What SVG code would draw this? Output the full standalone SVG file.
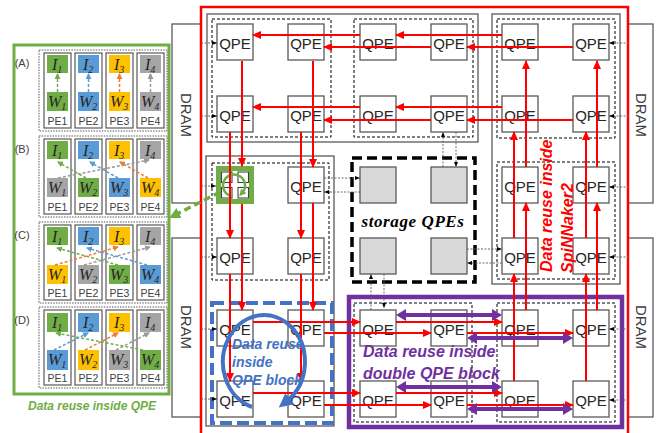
<svg xmlns="http://www.w3.org/2000/svg" width="656" height="433" viewBox="0 0 656 433">
<style>
.blk{fill:#fff;stroke:#595959;stroke-width:1.3}
.dsh{fill:none;stroke:#000;stroke-width:1;stroke-dasharray:3,2}
.q{fill:#fff;stroke:#595959;stroke-width:1.3}
.qt{font-family:"Liberation Sans",Arial,sans-serif;font-size:15px;fill:#262626;text-anchor:middle}
.st{fill:#D9D9D9;stroke:#595959;stroke-width:1.3}
.dram{fill:#fff;stroke:#595959;stroke-width:1.3}
.dt{font-family:"Liberation Sans",Arial,sans-serif;font-size:15px;fill:#404040;text-anchor:middle;dominant-baseline:central}
.r{fill:none;stroke:#FF0000;stroke-width:2;marker-end:url(#ar)}
.p{fill:none;stroke:#7030A0;stroke-width:4;marker-start:url(#ap);marker-end:url(#ap)}
.k{fill:none;stroke:#595959;stroke-width:0.9;stroke-dasharray:2,1.5;marker-end:url(#ak)}
.pnl{fill:none;stroke:#595959;stroke-width:1;stroke-dasharray:1.5,1.2}
.pe{fill:#fff;stroke:#595959;stroke-width:1.2}
.pl{font-family:"Liberation Sans",Arial,sans-serif;font-size:10.5px;fill:#404040;text-anchor:middle}
.lab{font-family:"Liberation Sans",Arial,sans-serif;font-size:11px;fill:#404040;text-anchor:middle}
.iw{font-family:"Liberation Serif","Times New Roman",serif;font-style:italic;font-size:16px;fill:#262626}
.sb{font-size:10px}
.G{fill:#70AD47}.B{fill:#5B9BD5}.Y{fill:#FFC000}.A{fill:#A5A5A5}
.ag{fill:none;stroke:#70AD47;stroke-width:1.5;stroke-dasharray:3,2;marker-end:url(#mg)}
.ab{fill:none;stroke:#5B9BD5;stroke-width:1.5;stroke-dasharray:3,2;marker-end:url(#mb)}
.ao{fill:none;stroke:#ED7D31;stroke-width:1.5;stroke-dasharray:3,2;marker-end:url(#mo)}
.aa{fill:none;stroke:#999;stroke-width:1.5;stroke-dasharray:3,2;marker-end:url(#ma)}
.bi{font-family:"Liberation Sans",Arial,sans-serif;font-weight:bold;font-style:italic}
</style>
<defs>
<marker id="ar" viewBox="0 0 9 8" markerWidth="9" markerHeight="8" refX="8" refY="4" orient="auto" markerUnits="userSpaceOnUse"><path d="M0,0 L9,4 L0,8 z" fill="#FF0000"/></marker>
<marker id="ap" viewBox="0 0 10 12" markerWidth="10" markerHeight="12" refX="1" refY="6" orient="auto-start-reverse" markerUnits="userSpaceOnUse"><path d="M0,0 L10,6 L0,12 z" fill="#7030A0"/></marker>
<marker id="ak" viewBox="0 0 10 10" markerWidth="5" markerHeight="5" refX="10" refY="5" orient="auto" markerUnits="userSpaceOnUse"><path d="M0,1 L10,5 L0,9 z" fill="#000"/></marker>
<marker id="mg" viewBox="0 0 6 6" markerWidth="6" markerHeight="6" refX="5" refY="3" orient="auto" markerUnits="userSpaceOnUse"><path d="M0,0 L6,3 L0,6 z" fill="#70AD47"/></marker>
<marker id="mb" viewBox="0 0 6 6" markerWidth="6" markerHeight="6" refX="5" refY="3" orient="auto" markerUnits="userSpaceOnUse"><path d="M0,0 L6,3 L0,6 z" fill="#5B9BD5"/></marker>
<marker id="mo" viewBox="0 0 6 6" markerWidth="6" markerHeight="6" refX="5" refY="3" orient="auto" markerUnits="userSpaceOnUse"><path d="M0,0 L6,3 L0,6 z" fill="#ED7D31"/></marker>
<marker id="ma" viewBox="0 0 6 6" markerWidth="6" markerHeight="6" refX="5" refY="3" orient="auto" markerUnits="userSpaceOnUse"><path d="M0,0 L6,3 L0,6 z" fill="#999"/></marker>
<marker id="mgb" viewBox="0 0 10 10" markerWidth="11" markerHeight="11" refX="3" refY="5" orient="auto" markerUnits="userSpaceOnUse"><path d="M0,0 L10,5 L0,10 z" fill="#70AD47"/></marker>
<marker id="mgs" viewBox="0 0 10 10" markerWidth="7" markerHeight="7" refX="3" refY="5" orient="auto" markerUnits="userSpaceOnUse"><path d="M0,0 L10,5 L0,10 z" fill="#70AD47"/></marker>
<marker id="mbl" viewBox="0 0 10 10" markerWidth="14" markerHeight="14" refX="2" refY="5" orient="auto" markerUnits="userSpaceOnUse"><path d="M0,0 L10,5 L0,10 z" fill="#4472C4"/></marker>
</defs>
<rect width="656" height="433" fill="#fff"/>

<!-- DRAM -->
<g id="dram-l1"><rect class="dram" x="172" y="24" width="29" height="179"/><text class="dt" transform="translate(186,115) rotate(90)">DRAM</text></g>
<g id="dram-l2"><rect class="dram" x="172" y="238" width="29" height="179"/><text class="dt" transform="translate(186,327) rotate(90)">DRAM</text></g>
<g id="dram-r1"><rect class="dram" x="628" y="24" width="25" height="179"/><text class="dt" transform="translate(641,115) rotate(90)">DRAM</text></g>
<g id="dram-r2"><rect class="dram" x="628" y="238" width="25" height="179"/><text class="dt" transform="translate(641,327) rotate(90)">DRAM</text></g>

<!-- blocks -->
<g id="blocks">
<rect class="blk" x="207" y="14" width="271" height="128"/>
<rect class="blk" x="492" y="14" width="128" height="270"/>
<rect class="blk" x="206" y="156" width="128" height="270"/>
<rect class="dsh" x="212" y="19" width="119" height="118"/>
<rect class="dsh" x="354" y="19" width="119" height="118"/>
<rect class="dsh" x="497" y="19" width="118" height="119"/>
<rect class="dsh" x="497" y="162" width="118" height="117"/>
<rect class="dsh" x="212" y="163" width="117" height="117"/>
<rect fill="#fff" stroke="#7030A0" stroke-width="4.5" x="349" y="297" width="273" height="130"/>
<rect class="dsh" x="354" y="303" width="118" height="119"/>
<rect class="dsh" x="497" y="303" width="118" height="119"/>
<rect fill="none" stroke="#000" stroke-width="3.5" stroke-dasharray="10,5" x="352" y="158" width="123" height="124"/>
<rect fill="none" stroke="#4472C4" stroke-width="4" stroke-dasharray="12,5" x="212" y="303" width="120" height="120"/>
</g>

<!-- QPE nodes -->
<g id="qpe-1-1"><rect class="q" x="217" y="24" width="36" height="36"/><text class="qt" x="235" y="48.5">QPE</text></g>
<g id="qpe-1-2"><rect class="q" x="288" y="24" width="36" height="36"/><text class="qt" x="306" y="48.5">QPE</text></g>
<g id="qpe-1-3"><rect class="q" x="360" y="24" width="36" height="36"/><text class="qt" x="378" y="48.5">QPE</text></g>
<g id="qpe-1-4"><rect class="q" x="431" y="24" width="36" height="36"/><text class="qt" x="449" y="48.5">QPE</text></g>
<g id="qpe-1-5"><rect class="q" x="502" y="24" width="36" height="36"/><text class="qt" x="520" y="48.5">QPE</text></g>
<g id="qpe-1-6"><rect class="q" x="573" y="24" width="36" height="36"/><text class="qt" x="591" y="48.5">QPE</text></g>
<g id="qpe-2-1"><rect class="q" x="217" y="96" width="36" height="36"/><text class="qt" x="235" y="120.5">QPE</text></g>
<g id="qpe-2-2"><rect class="q" x="288" y="96" width="36" height="36"/><text class="qt" x="306" y="120.5">QPE</text></g>
<g id="qpe-2-3"><rect class="q" x="360" y="96" width="36" height="36"/><text class="qt" x="378" y="120.5">QPE</text></g>
<g id="qpe-2-4"><rect class="q" x="431" y="96" width="36" height="36"/><text class="qt" x="449" y="120.5">QPE</text></g>
<g id="qpe-2-5"><rect class="q" x="502" y="96" width="36" height="36"/><text class="qt" x="520" y="120.5">QPE</text></g>
<g id="qpe-2-6"><rect class="q" x="573" y="96" width="36" height="36"/><text class="qt" x="591" y="120.5">QPE</text></g>
<g id="qpe-3-1-green">
<rect fill="#fff" stroke="#70AD47" stroke-width="5" x="218.5" y="168.5" width="33" height="33"/>
<rect fill="#fff" stroke="#404040" stroke-width="1.1" x="221.5" y="172" width="10.5" height="10.5"/>
<rect fill="#fff" stroke="#404040" stroke-width="1.1" x="238" y="172" width="10.5" height="10.5"/>
<rect fill="#fff" stroke="#404040" stroke-width="1.1" x="221.5" y="187.5" width="10.5" height="10.5"/>
<rect fill="#fff" stroke="#404040" stroke-width="1.1" x="238" y="187.5" width="10.5" height="10.5"/>
<path d="M229.5,195.5 A11,11 0 1 1 242.4,192.6" fill="none" stroke="#70AD47" stroke-width="2.5" marker-end="url(#mgs)"/>
</g>
<g id="qpe-3-2"><rect class="q" x="288" y="167" width="36" height="36"/><text class="qt" x="306" y="191.5">QPE</text></g>
<g id="qpe-3-5"><rect class="q" x="502" y="167" width="36" height="36"/><text class="qt" x="520" y="191.5">QPE</text></g>
<g id="qpe-3-6"><rect class="q" x="573" y="167" width="36" height="36"/><text class="qt" x="591" y="191.5">QPE</text></g>
<g id="qpe-4-1"><rect class="q" x="217" y="238" width="36" height="36"/><text class="qt" x="235" y="262.5">QPE</text></g>
<g id="qpe-4-2"><rect class="q" x="288" y="238" width="36" height="36"/><text class="qt" x="306" y="262.5">QPE</text></g>
<g id="qpe-4-5"><rect class="q" x="502" y="238" width="36" height="36"/><text class="qt" x="520" y="262.5">QPE</text></g>
<g id="qpe-4-6"><rect class="q" x="573" y="238" width="36" height="36"/><text class="qt" x="591" y="262.5">QPE</text></g>
<g id="qpe-5-1"><rect class="q" x="217" y="310" width="36" height="36"/><text class="qt" x="235" y="334.5">QPE</text></g>
<g id="qpe-5-2"><rect class="q" x="288" y="310" width="36" height="36"/><text class="qt" x="306" y="334.5">QPE</text></g>
<g id="qpe-5-3"><rect class="q" x="360" y="310" width="36" height="36"/><text class="qt" x="378" y="334.5">QPE</text></g>
<g id="qpe-5-4"><rect class="q" x="431" y="310" width="36" height="36"/><text class="qt" x="449" y="334.5">QPE</text></g>
<g id="qpe-5-5"><rect class="q" x="502" y="310" width="36" height="36"/><text class="qt" x="520" y="334.5">QPE</text></g>
<g id="qpe-5-6"><rect class="q" x="573" y="310" width="36" height="36"/><text class="qt" x="591" y="334.5">QPE</text></g>
<g id="qpe-6-1"><rect class="q" x="217" y="381" width="36" height="36"/><text class="qt" x="235" y="405.5">QPE</text></g>
<g id="qpe-6-2"><rect class="q" x="288" y="381" width="36" height="36"/><text class="qt" x="306" y="405.5">QPE</text></g>
<g id="qpe-6-3"><rect class="q" x="360" y="381" width="36" height="36"/><text class="qt" x="378" y="405.5">QPE</text></g>
<g id="qpe-6-4"><rect class="q" x="431" y="381" width="36" height="36"/><text class="qt" x="449" y="405.5">QPE</text></g>
<g id="qpe-6-5"><rect class="q" x="502" y="381" width="36" height="36"/><text class="qt" x="520" y="405.5">QPE</text></g>
<g id="qpe-6-6"><rect class="q" x="573" y="381" width="36" height="36"/><text class="qt" x="591" y="405.5">QPE</text></g>

<!-- storage QPEs -->
<g id="storage">
<rect class="st" x="360" y="167" width="36" height="36"/>
<rect class="st" x="431" y="167" width="36" height="36"/>
<rect class="st" x="360" y="238" width="36" height="36"/>
<rect class="st" x="431" y="238" width="36" height="36"/>
<text x="413" y="227" font-family="'Liberation Serif','Times New Roman',serif" font-weight="bold" font-style="italic" font-size="17" fill="#000" text-anchor="middle" letter-spacing="0.6">storage QPEs</text>
</g>

<!-- red frame -->
<path d="M201,440 V7 H628 V440" fill="none" stroke="#FF0000" stroke-width="2.5"/>

<!-- connectors -->
<g id="connectors">
<!-- top rows, leftward -->
<path class="r" d="M502,35 H396"/><path class="r" d="M360,35 H253"/>
<path class="r" d="M573,47 H467"/><path class="r" d="M431,47 H324"/>
<path class="r" d="M502,107 H396"/><path class="r" d="M360,107 H253"/>
<path class="r" d="M573,120 H467"/><path class="r" d="M431,120 H324"/>
<!-- bottom rows, rightward -->
<path class="r" d="M253,322 H360"/><path class="r" d="M396,322 H502"/>
<path class="r" d="M324,333 H431"/><path class="r" d="M467,333 H573"/>
<path class="r" d="M253,393 H360"/><path class="r" d="M396,393 H502"/>
<path class="r" d="M324,405 H431"/><path class="r" d="M467,405 H573"/>
<!-- left columns, downward -->
<path class="r" d="M242,61 V166"/><path class="r" d="M230,132 V238"/>
<path class="r" d="M242,204 V310"/><path class="r" d="M230,274 V381"/>
<path class="r" d="M313,61 V167"/><path class="r" d="M301,132 V238"/>
<path class="r" d="M313,203 V310"/><path class="r" d="M301,274 V381"/>
<!-- right columns, upward -->
<path class="r" d="M526,167 V61"/><path class="r" d="M514,238 V132"/>
<path class="r" d="M526,310 V203"/><path class="r" d="M514,381 V274"/>
<path class="r" d="M597,167 V61"/><path class="r" d="M586,238 V132"/>
<path class="r" d="M597,310 V203"/><path class="r" d="M586,381 V274"/>
<!-- purple double arrows -->
<path class="p" d="M405,315 H493"/><path class="p" d="M476,338 H564"/>
<path class="p" d="M405,387 H493"/><path class="p" d="M476,409 H564"/>
<!-- DRAM dotted -->
<path class="k" d="M201,43 H217"/><path class="k" d="M201,116 H217"/>
<path class="k" d="M201,186 H216"/><path class="k" d="M201,257 H217"/>
<path class="k" d="M201,329 H217"/><path class="k" d="M201,399 H217"/>
<path class="k" d="M629,43 H609"/><path class="k" d="M629,116 H609"/>
<path class="k" d="M629,187 H609"/><path class="k" d="M629,257 H609"/>
<path class="k" d="M629,329 H609"/><path class="k" d="M629,400 H609"/>
<!-- storage dotted -->
<path class="k" d="M324,178 H360"/><path class="k" d="M360,192 H324"/>
<path class="k" d="M443,167 V132"/><path class="k" d="M456,132 V167"/>
<path class="k" d="M467,249 H502"/><path class="k" d="M502,263 H467"/>
<path class="k" d="M371,310 V274"/><path class="k" d="M384,274 V308"/>
<!-- green dashed link to panel -->
<path d="M220,192 L176,214.5" fill="none" stroke="#70AD47" stroke-width="3.5" stroke-dasharray="7,4" marker-end="url(#mgb)"/>
</g>

<!-- annotations -->
<g id="blue-note">
<path d="M252,407 A41,47 0 1 1 287.5,400.5" fill="none" stroke="#4472C4" stroke-width="4" marker-end="url(#mbl)"/>
<text class="bi" font-size="14" fill="#4472C4"><tspan x="232" y="349">Data reuse</tspan><tspan x="232" y="367">inside</tspan><tspan x="232" y="385">QPE block</tspan></text>
</g>
<g id="purple-note"><text class="bi" font-size="16" fill="#7030A0"><tspan x="363" y="357">Data reuse inside</tspan><tspan x="363" y="379">double QPE block</tspan></text></g>
<g id="red-note">
<text class="bi" font-size="16" fill="#FF0000" transform="translate(552,272) rotate(-90)">Data reuse inside</text>
<text class="bi" font-size="16" fill="#FF0000" transform="translate(573,273) rotate(-90)">SpiNNaker2</text>
</g>

<!-- left panel -->
<g id="qpe-panel">
<rect fill="#fff" stroke="#70AD47" stroke-width="3" x="14" y="45" width="155" height="349"/>
<text class="bi" font-size="12" fill="#70AD47" x="92" y="410" text-anchor="middle">Data reuse inside QPE</text>
</g>

<g id="panel-A">
<rect class="pnl" x="39" y="50" width="128" height="81"/>
<text class="lab" x="22" y="67">(A)</text>
<rect class="pe" x="44" y="53" width="27" height="75"/><rect class="pe" x="75" y="53" width="27" height="75"/><rect class="pe" x="106" y="53" width="27" height="75"/><rect class="pe" x="137" y="53" width="27" height="75"/>
<rect class="G" x="47" y="55" width="21" height="18"/><rect class="B" x="78" y="55" width="21" height="18"/><rect class="Y" x="109" y="55" width="21" height="18"/><rect class="A" x="140" y="55" width="21" height="18"/>
<rect class="G" x="47" y="92" width="21" height="19"/><rect class="B" x="78" y="92" width="21" height="19"/><rect class="Y" x="109" y="92" width="21" height="19"/><rect class="A" x="140" y="92" width="21" height="19"/>
<text class="iw" x="52" y="70">I<tspan class="sb" dy="3">1</tspan></text><text class="iw" x="83" y="70">I<tspan class="sb" dy="3">2</tspan></text><text class="iw" x="114" y="70">I<tspan class="sb" dy="3">3</tspan></text><text class="iw" x="145" y="70">I<tspan class="sb" dy="3">4</tspan></text>
<text class="iw" x="48" y="107">W<tspan class="sb" dy="3">1</tspan></text><text class="iw" x="79" y="107">W<tspan class="sb" dy="3">2</tspan></text><text class="iw" x="110" y="107">W<tspan class="sb" dy="3">3</tspan></text><text class="iw" x="141" y="107">W<tspan class="sb" dy="3">4</tspan></text>
<text class="pl" x="57.5" y="125">PE1</text><text class="pl" x="88.5" y="125">PE2</text><text class="pl" x="119.5" y="125">PE3</text><text class="pl" x="150.5" y="125">PE4</text>
<path class="ag" d="M57.5,92 V74"/><path class="ab" d="M88.5,92 V74"/><path class="ao" d="M119.5,92 V74"/><path class="aa" d="M150.5,92 V74"/>
</g>

<g id="panel-B">
<rect class="pnl" x="39" y="136" width="128" height="81"/>
<text class="lab" x="22" y="153">(B)</text>
<rect class="pe" x="44" y="139" width="27" height="75"/><rect class="pe" x="75" y="139" width="27" height="75"/><rect class="pe" x="106" y="139" width="27" height="75"/><rect class="pe" x="137" y="139" width="27" height="75"/>
<rect class="G" x="47" y="141" width="21" height="18"/><rect class="B" x="78" y="141" width="21" height="18"/><rect class="Y" x="109" y="141" width="21" height="18"/><rect class="A" x="140" y="141" width="21" height="18"/>
<rect class="A" x="47" y="178" width="21" height="19"/><rect class="G" x="78" y="178" width="21" height="19"/><rect class="B" x="109" y="178" width="21" height="19"/><rect class="Y" x="140" y="178" width="21" height="19"/>
<text class="iw" x="52" y="156">I<tspan class="sb" dy="3">1</tspan></text><text class="iw" x="83" y="156">I<tspan class="sb" dy="3">2</tspan></text><text class="iw" x="114" y="156">I<tspan class="sb" dy="3">3</tspan></text><text class="iw" x="145" y="156">I<tspan class="sb" dy="3">4</tspan></text>
<text class="iw" x="48" y="193">W<tspan class="sb" dy="3">1</tspan></text><text class="iw" x="79" y="193">W<tspan class="sb" dy="3">2</tspan></text><text class="iw" x="110" y="193">W<tspan class="sb" dy="3">3</tspan></text><text class="iw" x="141" y="193">W<tspan class="sb" dy="3">4</tspan></text>
<text class="pl" x="57.5" y="211">PE1</text><text class="pl" x="88.5" y="211">PE2</text><text class="pl" x="119.5" y="211">PE3</text><text class="pl" x="150.5" y="211">PE4</text>
<path class="ag" d="M86,178 L58,162"/><path class="ab" d="M118,178 L90,162"/><path class="ao" d="M148,178 L120,162"/><path class="aa" d="M58,178 L149,160"/>
</g>

<g id="panel-C">
<rect class="pnl" x="39" y="222" width="128" height="81"/>
<text class="lab" x="22" y="239">(C)</text>
<rect class="pe" x="44" y="225" width="27" height="75"/><rect class="pe" x="75" y="225" width="27" height="75"/><rect class="pe" x="106" y="225" width="27" height="75"/><rect class="pe" x="137" y="225" width="27" height="75"/>
<rect class="G" x="47" y="227" width="21" height="18"/><rect class="B" x="78" y="227" width="21" height="18"/><rect class="Y" x="109" y="227" width="21" height="18"/><rect class="A" x="140" y="227" width="21" height="18"/>
<rect class="Y" x="47" y="265" width="21" height="19"/><rect class="A" x="78" y="265" width="21" height="19"/><rect class="G" x="109" y="265" width="21" height="19"/><rect class="B" x="140" y="265" width="21" height="19"/>
<text class="iw" x="52" y="242">I<tspan class="sb" dy="3">1</tspan></text><text class="iw" x="83" y="242">I<tspan class="sb" dy="3">2</tspan></text><text class="iw" x="114" y="242">I<tspan class="sb" dy="3">3</tspan></text><text class="iw" x="145" y="242">I<tspan class="sb" dy="3">4</tspan></text>
<text class="iw" x="48" y="280">W<tspan class="sb" dy="3">1</tspan></text><text class="iw" x="79" y="280">W<tspan class="sb" dy="3">2</tspan></text><text class="iw" x="110" y="280">W<tspan class="sb" dy="3">3</tspan></text><text class="iw" x="141" y="280">W<tspan class="sb" dy="3">4</tspan></text>
<text class="pl" x="57.5" y="297">PE1</text><text class="pl" x="88.5" y="297">PE2</text><text class="pl" x="119.5" y="297">PE3</text><text class="pl" x="150.5" y="297">PE4</text>
<path class="ag" d="M118,265 L57,248"/><path class="ab" d="M147,265 L87,248"/><path class="ao" d="M55,265 L118,247"/><path class="aa" d="M84,265 L150,247"/>
</g>

<g id="panel-D">
<rect class="pnl" x="39" y="307" width="128" height="81"/>
<text class="lab" x="22" y="324">(D)</text>
<rect class="pe" x="44" y="310" width="27" height="75"/><rect class="pe" x="75" y="310" width="27" height="75"/><rect class="pe" x="106" y="310" width="27" height="75"/><rect class="pe" x="137" y="310" width="27" height="75"/>
<rect class="G" x="47" y="313" width="21" height="19"/><rect class="B" x="78" y="313" width="21" height="19"/><rect class="Y" x="109" y="313" width="21" height="19"/><rect class="A" x="140" y="313" width="21" height="19"/>
<rect class="B" x="47" y="350" width="21" height="20"/><rect class="Y" x="78" y="350" width="21" height="20"/><rect class="A" x="109" y="350" width="21" height="20"/><rect class="G" x="140" y="350" width="21" height="20"/>
<text class="iw" x="52" y="328">I<tspan class="sb" dy="3">1</tspan></text><text class="iw" x="83" y="328">I<tspan class="sb" dy="3">2</tspan></text><text class="iw" x="114" y="328">I<tspan class="sb" dy="3">3</tspan></text><text class="iw" x="145" y="328">I<tspan class="sb" dy="3">4</tspan></text>
<text class="iw" x="48" y="365">W<tspan class="sb" dy="3">1</tspan></text><text class="iw" x="79" y="365">W<tspan class="sb" dy="3">2</tspan></text><text class="iw" x="110" y="365">W<tspan class="sb" dy="3">3</tspan></text><text class="iw" x="141" y="365">W<tspan class="sb" dy="3">4</tspan></text>
<text class="pl" x="57.5" y="382">PE1</text><text class="pl" x="88.5" y="382">PE2</text><text class="pl" x="119.5" y="382">PE3</text><text class="pl" x="150.5" y="382">PE4</text>
<path class="ag" d="M143,350 L56,333"/><path class="ab" d="M54,350 L88,333"/><path class="ao" d="M85,350 L118,333"/><path class="aa" d="M116,350 L149,333"/>
</g>
</svg>
